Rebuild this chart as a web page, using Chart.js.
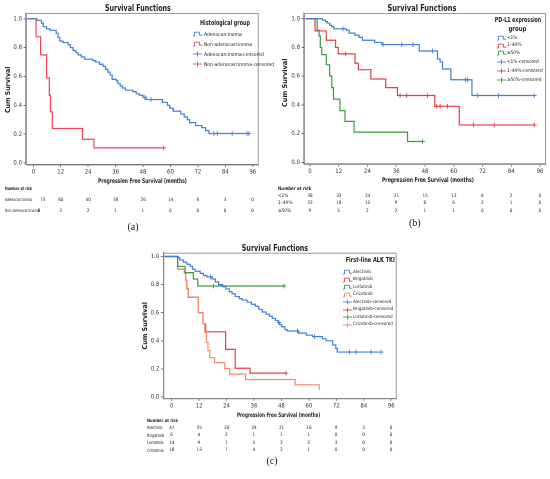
<!DOCTYPE html>
<html><head><meta charset="utf-8">
<script src="https://cdn.jsdelivr.net/npm/chart.js@4.4.1/dist/chart.umd.min.js"></script>
<style>
html,body{margin:0;padding:0;background:#fff;}
body{width:550px;height:479px;position:relative;overflow:hidden;font-family:"Liberation Sans Narrow","DejaVu Sans Condensed","Liberation Sans",sans-serif;}
.cv{position:absolute;}
.t{position:absolute;white-space:nowrap;line-height:1;color:#222;transform-origin:0 0;}
.ic{position:absolute;}
</style>
</head><body>
<script>
// ---------- shared tick labels ----------
const xTicks = [0, 12, 24, 36, 48, 60, 72, 84, 96];
const yTicks = [0, 0.2, 0.4, 0.6, 0.8, 1.0];

// ---------- (a) Histological group ----------
const adenoT = [0,1.5,3.6,4.3,5.8,7.3,10,10.8,11.6,13,15.2,16.2,17.4,18.6,19.6,21,22.5,26,27.3,29,30.5,31.6,32.6,33.6,34.5,36.3,37,38,38.9,40.3,43.5,45,46.4,48,49.3,56.5,58.7,59.7,61.2,64.5,66,67.4,68.4,71,73.7,75.4,76.9];
const adenoS = [1,0.99,0.97,0.945,0.93,0.92,0.90,0.87,0.845,0.835,0.82,0.80,0.78,0.765,0.75,0.735,0.72,0.71,0.70,0.685,0.67,0.65,0.63,0.61,0.58,0.57,0.55,0.535,0.52,0.505,0.495,0.48,0.47,0.455,0.44,0.42,0.40,0.38,0.36,0.34,0.32,0.30,0.28,0.26,0.245,0.225,0.205];
const adenoCensT = [48.8,51.5,79,80.5,87,93.5,94.3];
const adenoCensS = [0.455,0.44,0.205,0.205,0.205,0.205,0.205];
const nonAdenoT = [0,1.2,3.2,5.8,7,7.5,8.3,21.5,26.5];
const nonAdenoS = [1,0.875,0.75,0.59,0.47,0.355,0.24,0.165,0.105];
const nonAdenoCensT = [57];
const nonAdenoCensS = [0.105];
const riskAdeno = [73,60,50,38,26,14,8,3,0];
const riskNonAdeno = [8,3,2,1,1,0,0,0,0];

// ---------- (b) PD-L1 expression group ----------
const lt1T = [0,5.2,6.5,7.2,8.2,9,10,15.2,16.3,18.8,20.5,21.9,27,30,45.6,53.2,54.3,55.3,58.8,67.6];
const lt1S = [1,0.99,0.98,0.97,0.955,0.945,0.93,0.92,0.90,0.885,0.87,0.85,0.835,0.82,0.775,0.72,0.70,0.65,0.575,0.465];
const lt1CensT = [13.8,30.5,38.3,43,51.1,65,65.8,70,78.7,93.6];
const lt1CensS = [0.93,0.82,0.82,0.82,0.775,0.575,0.575,0.465,0.465,0.465];
const midT = [0,2.1,6.8,10.7,11.8,18.8,20.2,25.4,31.6,36.5,52.1,62.3];
const midS = [1,0.915,0.85,0.80,0.755,0.69,0.645,0.58,0.52,0.465,0.39,0.26];
const midCensT = [14.9,37.6,40.4,49,52.9,54.3,57.4,68.3,76.9,93.6];
const midCensS = [0.755,0.465,0.465,0.465,0.39,0.39,0.39,0.26,0.26,0.26];
const hiT = [0,3,3.8,4.3,4.9,6.8,8.2,9.1,9.8,12.5,14.6,18.4,40.7];
const hiS = [1,0.92,0.88,0.80,0.75,0.68,0.60,0.52,0.44,0.36,0.285,0.21,0.145];
const hiCensT = [47];
const hiCensS = [0.145];
const riskLt1 = [38,33,24,21,15,12,6,2,0];
const riskMid = [23,18,12,9,8,6,2,1,0];
const riskHi = [9,5,2,2,1,1,0,0,0];

// ---------- (c) First-line ALK TKI ----------
const alecT = [0,2.9,3.6,5.1,6.6,8.1,9.1,10.3,12.5,13.9,15.4,17.6,19.1,20.5,22.3,23.7,25.2,26.4,27.8,29.6,30.8,33,34.9,36.6,38.1,39.6,41.3,42.8,44,45.4,46.6,47.2,48.1,49.5,50.5,55.5,58.9,61.6,65.9,67.5,70.4,71.8,72.4];
const alecS = [1,0.99,0.975,0.96,0.945,0.93,0.91,0.895,0.88,0.865,0.855,0.84,0.82,0.80,0.785,0.77,0.75,0.735,0.715,0.70,0.69,0.675,0.66,0.645,0.625,0.605,0.59,0.575,0.56,0.545,0.53,0.515,0.50,0.48,0.47,0.455,0.44,0.43,0.415,0.40,0.37,0.345,0.32];
const alecCensT = [17,46.9,55,62.5,77.7,80.6,87.2,91.6];
const alecCensS = [0.855,0.53,0.47,0.43,0.32,0.32,0.32,0.32];
const brigT = [0,2.6,5.6,6.1,6.6,7.3,11.7,13.7,14.9,23.6,27.8,34.3];
const brigS = [1,0.91,0.88,0.83,0.77,0.71,0.60,0.52,0.464,0.339,0.205,0.17];
const brigCensT = [50];
const brigCensS = [0.17];
const lorT = [0,2.6,5.9,9.5,11.4];
const lorS = [1,0.93,0.885,0.84,0.79];
const lorCensT = [18.3,49.1];
const lorCensS = [0.79,0.79];
const crizT = [0,2.6,5.6,6.1,6.6,7.3,11.7,13.7,14.5,15.2,15.9,16.7,18.8,23.2,25.4,32.3,54,64.5];
const crizS = [1,0.91,0.88,0.83,0.77,0.71,0.60,0.52,0.46,0.39,0.33,0.28,0.245,0.203,0.163,0.125,0.087,0.05];
const crizCensT = [];
const crizCensS = [];
const riskAlec = [47,35,30,24,21,16,9,3,0];
const riskBrig = [6,4,2,1,1,1,0,0,0];
const riskLor = [14,9,7,5,3,3,3,0,0];
const riskCriz = [18,13,7,4,3,1,0,0,0];

// ---------- colours ----------
const BLUE = '#3f7fd9', RED_A = '#f0405e', RED = '#e63c48', GREEN = '#3c9b3c', SALMON = '#f5896a';

const FONT = '"Liberation Sans Narrow","DejaVu Sans Condensed","Liberation Sans",sans-serif';
Chart.defaults.font.family = FONT;
Chart.defaults.color = '#333';

function stepPts(ts, ss, start, end) {
  const pts = [{x: start, y: ss[0]}];
  ts.forEach((t, i) => pts.push({x: t, y: ss[i]}));
  if (end !== undefined) pts.push({x: end, y: ss[ss.length - 1]});
  return pts;
}
function censPts(ts, ss) { return ts.map((t, i) => ({x: t, y: ss[i]})); }
function lineDs(ts, ss, start, end, color) {
  return {data: stepPts(ts, ss, start, end), borderColor: color, borderWidth: 1.2, stepped: true,
          pointRadius: 0, fill: false, tension: 0};
}
function censDs(ts, ss, color) {
  return {data: censPts(ts, ss), borderColor: color, borderWidth: 0.9, showLine: false,
          pointStyle: 'cross', pointRadius: 2.4, pointHoverRadius: 2.4};
}

const framePlugin = {
  id: 'frame',
  beforeDatasetsDraw(chart) {
    const {ctx, chartArea: a} = chart;
    ctx.save();
    ctx.strokeStyle = '#9a9a9a';
    ctx.lineWidth = 1;
    ctx.strokeRect(a.left + 0.5, a.top + 0.5, a.right - a.left - 1, a.bottom - a.top);
    ctx.restore();
  }
};

function makeScales(p) {
  const grid = {display: true, drawOnChartArea: false, drawTicks: true, tickLength: 2.5, color: '#555', lineWidth: 0.8};
  const border = {display: true, color: '#555', width: 1};
  return {
    x: {type: 'linear', min: p.xr[0], max: p.xr[1],
        afterBuildTicks: s => { s.ticks = xTicks.map(v => ({value: v})); },
        afterFit: s => { s.height = p.xH; },
        grid, border,
        ticks: {padding: 1.5, color: '#333', font: {size: 6}, maxRotation: 0, autoSkip: false, callback: v => String(v)},
        title: {display: false}},
    y: {type: 'linear', min: p.yr[0], max: p.yr[1],
        afterBuildTicks: s => { s.ticks = yTicks.map(v => ({value: v})); },
        afterFit: s => { s.width = p.yW; },
        grid, border,
        ticks: {padding: 1.5, color: '#333', font: {size: 6}, autoSkip: false, callback: v => Number(v).toFixed(1)},
        title: {display: false}}
  };
}

function makeChart(p) {
  const c = document.createElement('canvas');
  c.className = 'cv';
  c.width = p.w; c.height = p.h;
  c.style.left = p.left + 'px'; c.style.top = p.top + 'px';
  c.style.width = p.w + 'px'; c.style.height = p.h + 'px';
  document.body.appendChild(c);
  return new Chart(c.getContext('2d'), {
    type: 'line',
    data: {datasets: p.datasets},
    options: {
      responsive: false, animation: false, devicePixelRatio: 2,
      layout: {padding: p.pad},
      plugins: {legend: {display: false}, tooltip: {enabled: false}, title: {display: false}},
      scales: makeScales(p)
    },
    plugins: [framePlugin]
  });
}

// text helper: (x,y) = anchor; opt.left => left-anchored, else centred; opt.w => fit to width; opt.rot => rotate -90
function txt(x, y, str, size, opt) {
  opt = opt || {};
  const d = document.createElement('div');
  d.className = 't';
  d.textContent = str;
  d.style.fontSize = size + 'px';
  if (opt.bold) d.style.fontWeight = 'bold';
  if (opt.family) d.style.fontFamily = opt.family;
  if (opt.color) d.style.color = opt.color;
  d.style.left = '0px'; d.style.top = '0px';
  document.body.appendChild(d);
  const w = d.offsetWidth, h = d.offsetHeight;
  const sx = opt.w ? opt.w / w : 1;
  const ax = opt.left ? 0 : w * sx / 2;
  if (opt.rot) {
    d.style.transform = `translate(${x - h / 2}px, ${y + w * sx / 2}px) rotate(-90deg) scaleX(${sx})`;
  } else {
    d.style.transform = `translate(${x - ax}px, ${y - h / 2}px) scaleX(${sx})`;
  }
  return d;
}

function icon(x, y, color, censored) {
  const ns = 'http://www.w3.org/2000/svg';
  const s = document.createElementNS(ns, 'svg');
  s.setAttribute('width', '10'); s.setAttribute('height', '6');
  s.setAttribute('class', 'ic');
  s.style.left = x + 'px'; s.style.top = (y - 3) + 'px';
  const path = document.createElementNS(ns, 'path');
  path.setAttribute('d', censored ? 'M0 3 H9 M4.5 0.5 V5.5' : 'M0 5 H1.5 V1.2 H6.5 V4.2 H9.5');
  path.setAttribute('stroke', color); path.setAttribute('stroke-width', '0.9'); path.setAttribute('fill', 'none');
  s.appendChild(path);
  document.body.appendChild(s);
}

function legend(items, ix, tx, ys, size, sx) {
  items.forEach((it, i) => {
    icon(ix, ys[i], it[1], it[2]);
    const d = txt(tx, ys[i], it[0], size, {left: true});
    d.style.transform += ` scaleX(${sx})`;
  });
}

function riskTable(chart, left, rows, ys, labelX, labelSize, labelSx, firstX) {
  const sx = chart.scales.x;
  rows.forEach((r, ri) => {
    const d = txt(labelX, ys[ri], r[0], labelSize, {left: true});
    d.style.transform += ` scaleX(${labelSx})`;
    r[1].forEach((v, i) => {
      let x = left + sx.getPixelForValue(xTicks[i]);
      if (i === 0 && firstX) x = firstX[ri];
      txt(x, ys[ri], String(v), 4.6);
    });
  });
}

// ---------- panel (a) ----------
const pA = {left: 0, top: 0, w: 262, h: 184, pad: {top: 13, right: 2, left: 0, bottom: 0},
  yW: 26, xH: 19.5, xr: [-3.2, 98.6], yr: [-0.01, 1.04]};
const sA = pA.xr[0] + 0.6;
pA.datasets = [
  lineDs(adenoT, adenoS, sA, 94.3, BLUE),
  lineDs(nonAdenoT, nonAdenoS, sA, 57, RED_A),
  censDs(adenoCensT, adenoCensS, BLUE),
  censDs(nonAdenoCensT, nonAdenoCensS, RED_A)
];
const chA = makeChart(pA);

// ---------- panel (b) ----------
const pB = {left: 276, top: 0, w: 274, h: 184, pad: {top: 13, right: 4, left: 0, bottom: 0},
  yW: 28, xH: 20, xr: [-2.5, 98.5], yr: [-0.012, 1.04]};
const sB = pB.xr[0] + 0.6;
pB.datasets = [
  lineDs(lt1T, lt1S, sB, 93.6, BLUE),
  lineDs(midT, midS, sB, 93.6, RED),
  lineDs(hiT, hiS, sB, 47, GREEN),
  censDs(lt1CensT, lt1CensS, BLUE),
  censDs(midCensT, midCensS, RED),
  censDs(hiCensT, hiCensS, GREEN)
];
const chB = makeChart(pB);

// ---------- panel (c) ----------
const pC = {left: 137, top: 240, w: 263, h: 180, pad: {top: 12.7, right: 2, left: 0, bottom: 0},
  yW: 26.3, xH: 21.7, xr: [-3.65, 98.4], yr: [-0.009, 1.027]};
const sC = pC.xr[0] + 0.6;
pC.datasets = [
  lineDs(alecT, alecS, sC, 91.6, BLUE),
  lineDs(lorT, lorS, sC, 49.1, GREEN),
  lineDs(crizT, crizS, sC, undefined, SALMON),
  lineDs(brigT, brigS, sC, 50, RED),
  censDs(alecCensT, alecCensS, BLUE),
  censDs(lorCensT, lorCensS, GREEN),
  censDs(brigCensT, brigCensS, RED),
  censDs(crizCensT, crizCensS, SALMON)
];
const chC = makeChart(pC);

// ---------- titles ----------
txt(138, 7.5, 'Survival Functions', 9.5, {bold: true, w: 66});
txt(422, 7.5, 'Survival Functions', 9.5, {bold: true, w: 69});
txt(275, 247.5, 'Survival Functions', 9.5, {bold: true, w: 66.5});

// ---------- axis titles ----------
const XT = 'Progression Free Survival (months)', YT = 'Cum Survival';
txt(142.5, 181.5, XT, 6.5, {bold: true, w: 89});
txt(428, 180, XT, 6.5, {bold: true, w: 92});
txt(278.5, 415, XT, 6.3, {bold: true, w: 83});
txt(8, 90, YT, 6.8, {bold: true, w: 46, rot: true});
txt(285, 83, YT, 6.8, {bold: true, w: 48, rot: true});
txt(145, 326, YT, 6.8, {bold: true, w: 47, rot: true});

// ---------- legends ----------
txt(225, 23, 'Histological group', 7, {bold: true, w: 50});
legend([['Adenocarcinoma', BLUE, false], ['Non-adenocarcinoma', RED_A, false],
        ['Adenocarcinoma-censored', BLUE, true], ['Non-adenocarcinoma-censored', RED_A, true]],
       193, 204, [34, 44, 54, 64], 5, 1);

txt(518, 20, 'PD-L1 expression', 7, {bold: true, w: 46.7});
txt(517.5, 29, 'group', 7, {bold: true, w: 18});
legend([['<1%', BLUE, false], ['1–49%', RED, false], ['≥50%', GREEN, false],
        ['<1%-censored', BLUE, true], ['1–49%-censored', RED, true], ['≥50%-censored', GREEN, true]],
       497, 507, [38, 45.5, 53, 62, 71, 80], 4.8, 1);

txt(370.3, 260, 'First-line ALK TKI', 6.8, {bold: true, w: 49.3});
legend([['Alectinib', BLUE, false], ['Brigatinib', RED, false], ['Lorlatinib', GREEN, false], ['Crizotinib', SALMON, false],
        ['Alectinib-censored', BLUE, true], ['Brigatinib-censored', RED, true], ['Lorlatinib-censored', GREEN, true], ['Crizotinib-censored', SALMON, true]],
       343, 353, [272, 279.5, 287, 294.5, 302, 309.5, 317, 324.5], 4.6, 1);

// ---------- risk tables ----------
txt(5, 189, 'Number at risk', 4.6, {left: true, bold: true, w: 27});
riskTable(chA, pA.left, [['Adenocarcinoma', riskAdeno], ['Non-adenocarcinoma', riskNonAdeno]], [200, 211], 5, 4.4, 0.82, [42.7, 39.3]);

txt(278, 189, 'Number at risk', 4.8, {left: true, bold: true, w: 33});
riskTable(chB, pB.left, [['<1%', riskLt1], ['1–49%', riskMid], ['≥50%', riskHi]], [196, 203.5, 211], 278, 4.8, 1);

txt(147, 421, 'Number at risk', 4.6, {left: true, bold: true, w: 31});
riskTable(chC, pC.left, [['Alectinib', riskAlec], ['Brigatinib', riskBrig], ['Lorlatinib', riskLor], ['Crizotinib', riskCriz]],
          [428, 435.5, 443, 450.5], 147, 4.4, 0.9);

// ---------- panel labels ----------
const SERIF = '"Liberation Serif","DejaVu Serif",serif';
txt(133, 227, '(a)', 10, {family: SERIF, color: '#111'});
txt(415, 223, '(b)', 10, {family: SERIF, color: '#111'});
txt(272, 461, '(c)', 10, {family: SERIF, color: '#111'});
</script>
</body></html>
